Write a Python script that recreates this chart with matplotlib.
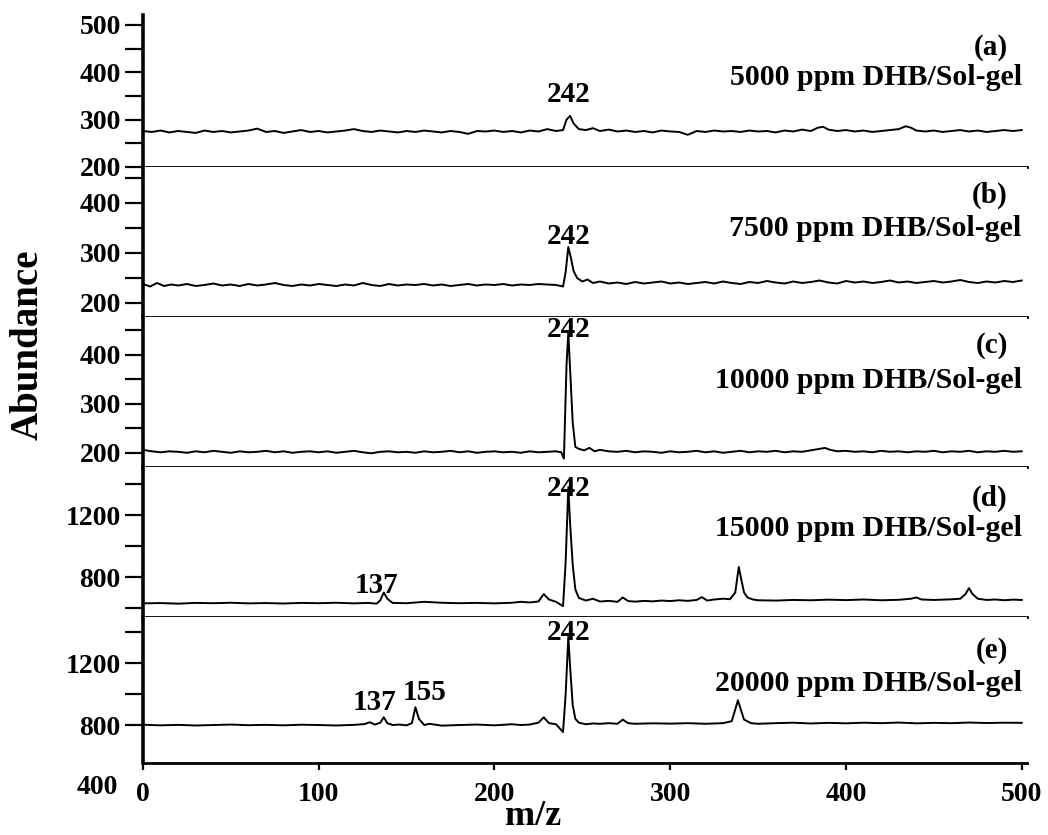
import matplotlib
matplotlib.use("Agg")
import matplotlib.pyplot as plt
from matplotlib.ticker import FixedLocator

plt.rcParams['font.family'] = ['Liberation Serif', 'DejaVu Serif']
plt.rcParams['font.weight'] = 'bold'

# ---------------- data ----------------
mz_a = [0, 5, 10, 15, 20, 25, 30, 35, 40, 45,
        50, 55, 60, 65, 70, 75, 80, 85, 90, 95,
        100, 105, 110, 115, 120, 125, 130, 135, 140, 145,
        150, 155, 160, 165, 170, 175, 180, 185, 190, 195,
        200, 205, 210, 215, 220, 225, 230, 235, 239, 241,
        243, 245, 248, 252, 256, 260, 265, 270, 275, 280,
        285, 290, 295, 300, 305, 310, 315, 320, 325, 330,
        335, 340, 345, 350, 355, 360, 365, 370, 375, 380,
        384, 387, 390, 395, 400, 405, 410, 415, 420, 425,
        430, 434, 437, 440, 445, 450, 455, 460, 465, 470,
        475, 480, 485, 490, 495, 500]
ab_a = [276, 274, 277, 273, 276, 274, 272, 277, 274, 276,
        273, 275, 277, 281, 274, 276, 272, 275, 278, 274,
        276, 273, 275, 277, 280, 276, 274, 277, 275, 273,
        276, 274, 277, 275, 273, 276, 274, 270, 276, 275,
        277, 274, 276, 273, 277, 275, 280, 276, 278, 300,
        308, 292, 280, 278, 282, 276, 279, 275, 277, 274,
        276, 273, 277, 275, 274, 268, 276, 274, 277, 275,
        276, 274, 277, 275, 276, 273, 277, 275, 279, 276,
        283, 285, 279, 276, 278, 275, 277, 274, 276, 278,
        280, 286, 283, 277, 275, 277, 274, 276, 278, 275,
        277, 274, 276, 278, 276, 278]

mz_b = [0, 4, 8, 12, 16, 20, 25, 30, 35, 40,
        45, 50, 55, 60, 65, 70, 75, 80, 85, 90,
        95, 100, 105, 110, 115, 120, 125, 130, 135, 140,
        145, 150, 155, 160, 165, 170, 175, 180, 185, 190,
        195, 200, 205, 210, 215, 220, 225, 230, 235, 239,
        240.5, 242, 243.5, 245, 247, 250, 253, 256, 260, 265,
        270, 275, 280, 285, 290, 295, 300, 305, 310, 315,
        320, 325, 330, 335, 340, 345, 350, 355, 360, 365,
        370, 375, 380, 385, 390, 395, 400, 405, 410, 415,
        420, 425, 430, 435, 440, 445, 450, 455, 460, 465,
        470, 475, 480, 485, 490, 495, 500]
ab_b = [238, 233, 240, 234, 237, 235, 238, 234, 236, 239,
        235, 237, 234, 238, 235, 237, 240, 236, 234, 237,
        235, 238, 236, 234, 237, 235, 240, 236, 234, 238,
        235, 237, 236, 238, 235, 237, 234, 236, 238, 235,
        237, 236, 238, 235, 237, 236, 238, 237, 236, 233,
        262, 312, 290, 264, 250, 243, 247, 240, 243, 239,
        241, 238, 242, 239, 241, 243, 239, 241, 238, 240,
        242, 239, 243, 240, 238, 242, 240, 244, 241, 239,
        243, 240, 242, 245, 241, 239, 244, 241, 243, 240,
        242, 245, 241, 243, 240, 242, 244, 241, 243, 246,
        242, 240, 243, 241, 244, 242, 245]

mz_c = [0, 5, 10, 15, 20, 25, 30, 35, 40, 45,
        50, 55, 60, 65, 70, 75, 80, 85, 90, 95,
        100, 105, 110, 115, 120, 125, 130, 135, 140, 145,
        150, 155, 160, 165, 170, 175, 180, 185, 190, 195,
        200, 205, 210, 215, 220, 225, 230, 235, 238, 239.5,
        241, 242, 243, 244.5, 246, 248, 251, 254, 257, 260,
        265, 270, 275, 280, 285, 290, 295, 300, 305, 310,
        315, 320, 325, 330, 335, 340, 345, 350, 355, 360,
        365, 370, 375, 380, 385, 388, 391, 395, 400, 405,
        410, 415, 420, 425, 430, 435, 440, 445, 450, 455,
        460, 465, 470, 475, 480, 485, 490, 495, 500]
ab_c = [206, 203, 201, 203, 202, 200, 203, 201, 204, 202,
        200, 203, 201, 202, 204, 201, 203, 200, 202, 203,
        201, 203, 200, 202, 204, 201, 199, 202, 203, 201,
        202, 200, 203, 201, 202, 204, 201, 203, 200, 202,
        203, 201, 202, 200, 203, 201, 202, 203, 201, 188,
        380, 445, 372, 262, 212, 208, 205, 210, 203, 206,
        203, 202, 204, 201, 203, 202, 200, 203, 201, 202,
        204, 201, 203, 200, 202, 204, 201, 203, 202, 204,
        201, 203, 202, 205, 208, 210, 206, 203, 204, 202,
        203, 201, 204, 202, 203, 201, 203, 202, 204, 201,
        203, 202, 204, 201, 203, 202, 204, 202, 203]

mz_d = [0, 10, 20, 30, 40, 50, 60, 70, 80, 90,
        100, 110, 120, 128, 133, 135, 137, 139, 142, 150,
        160, 170, 180, 190, 200, 210, 215, 220, 225, 228,
        231, 235, 239, 240.5, 242, 243, 244.5, 246, 248, 252,
        256, 260, 265, 270, 273, 276, 280, 285, 290, 295,
        300, 305, 310, 315, 318, 321, 325, 330, 334, 337,
        339, 340.5, 342, 344, 347, 350, 360, 370, 380, 390,
        400, 410, 420, 430, 437, 440, 443, 450, 460, 465,
        468, 470, 472, 475, 480, 485, 490, 495, 500]
ab_d = [630, 632, 628, 633, 631, 634, 630, 632, 629, 633,
        631, 634, 630, 633, 628, 650, 700, 660, 633, 631,
        640, 634, 631, 633, 630, 634, 640, 636, 642, 690,
        655, 640, 612, 900, 1380, 1150, 880, 720, 665, 648,
        660, 642, 646, 640, 668, 645, 641, 646, 643, 648,
        645, 650, 646, 652, 670, 648, 655, 660, 657, 700,
        865, 780, 700, 668, 655, 650, 648, 652, 650, 654,
        651, 655, 650, 653, 660, 668, 655, 652, 656, 660,
        690, 728, 690, 660, 652, 655, 650, 654, 652]

mz_e = [0, 10, 20, 30, 40, 50, 60, 70, 80, 90,
        100, 110, 120, 126, 129, 132, 135, 137, 139, 142,
        146, 150, 153, 155, 157, 160, 163, 170, 180, 190,
        200, 210, 215, 220, 225, 228, 231, 235, 239, 240.5,
        242, 243, 244.5, 246, 248, 252, 256, 260, 265, 270,
        273, 276, 280, 290, 300, 310, 320, 330, 335, 337,
        338.5, 340, 342, 346, 350, 360, 370, 380, 390, 400,
        410, 420, 430, 440, 450, 460, 470, 480, 490, 500]
ab_e = [802, 798, 801, 797, 800, 803, 799, 801, 798, 802,
        800, 797, 801, 806, 818, 803, 815, 850, 812, 800,
        803, 798, 812, 915, 840, 800, 808, 796, 800, 803,
        798, 805, 800, 803, 815, 850, 812, 805, 755, 1000,
        1370, 1180, 930, 840, 815, 805, 810, 808, 812, 808,
        835, 812, 808, 811, 809, 812, 808, 812, 825, 900,
        960, 905, 835, 812, 808, 812, 815, 810, 814, 811,
        815, 812, 816, 811, 814, 812, 816, 813, 815, 814]

panel_letters = ['(a)', '(b)', '(c)', '(d)', '(e)']
panel_titles = ['5000 ppm DHB/Sol-gel', '7500 ppm DHB/Sol-gel',
                '10000 ppm DHB/Sol-gel', '15000 ppm DHB/Sol-gel',
                '20000 ppm DHB/Sol-gel']
x_ticks = [0, 100, 200, 300, 400, 500]

# ---------------- layout ----------------
W, H = 1048, 835
fig = plt.figure(figsize=(W / 100, H / 100), dpi=100)

left_px, right_px = 143, 1027
rows_px = [(15, 167), (167, 317), (317, 467), (467, 617), (617, 763)]
ylims = [(200, 521), (172, 472), (171, 477), (542, 1510), (555, 1497)]
major = [[200, 300, 400, 500], [200, 300, 400], [200, 300, 400],
         [800, 1200], [800, 1200]]
minor = [[250, 350, 450], [250, 350, 450], [250, 350, 450],
         [600, 1000, 1400], [1000, 1400]]
letter_y = [452, 416, 418, 1310, 1278]
title_y = [389, 348, 347, 1112, 1067]
peak_lab_y = [354, 334, 451, 1374, 1400]

series = [(mz_a, ab_a), (mz_b, ab_b), (mz_c, ab_c), (mz_d, ab_d), (mz_e, ab_e)]

axes = []
for i, ((top, bot), (mz, ab)) in enumerate(zip(rows_px, series)):
    ax = fig.add_axes([left_px / W, 1 - bot / H, (right_px - left_px) / W,
                       (bot - top) / H])
    axes.append(ax)
    ax.plot(mz, ab, color='black', lw=1.4)
    ax.set_xlim(0, 503)
    ax.set_ylim(*ylims[i])
    for s in ('top', 'right'):
        ax.spines[s].set_visible(False)
    ax.spines['left'].set_linewidth(2.6)
    ax.spines['bottom'].set_linewidth(2.0)
    ax.set_yticks(major[i])
    ax.yaxis.set_minor_locator(FixedLocator(minor[i]))
    ax.tick_params(axis='y', which='both', direction='out', length=13,
                   width=1.6, labelsize=20, pad=3)
    if i < 4:
        ax.tick_params(axis='x', which='both', bottom=False, labelbottom=False)
    else:
        ax.set_xticks(x_ticks)
        ax.tick_params(axis='x', direction='out', length=5, width=1.6,
                       labelsize=20, pad=9)
    for lab in ax.get_yticklabels() + ax.get_xticklabels():
        lab.set_fontweight('bold')

    ax.text(492, letter_y[i], panel_letters[i], ha='right', va='center',
            fontsize=21, fontweight='bold')
    ax.text(500, title_y[i], panel_titles[i], ha='right', va='center',
            fontsize=21.5, fontweight='bold')
    ax.text(242, peak_lab_y[i], '242', ha='center', va='center',
            fontsize=21, fontweight='bold')

axes[3].text(133, 748, '137', ha='center', va='center', fontsize=21,
             fontweight='bold')
axes[4].text(132, 948, '137', ha='center', va='center', fontsize=21,
             fontweight='bold')
axes[4].text(160, 1013, '155', ha='center', va='center', fontsize=21,
             fontweight='bold')
# extra "400" label below the last panel
axes[4].text(-0.028, 400, '400', transform=axes[4].get_yaxis_transform(),
             ha='right', va='center', fontsize=20, fontweight='bold',
             clip_on=False)

fig.text(28 / W, 1 - 345 / H, 'Abundance', rotation=90, ha='center',
         va='center', fontsize=28, fontweight='bold')
fig.text(533 / W, 1 - 825 / H, 'm/z', ha='center', va='baseline',
         fontsize=26, fontweight='bold')

fig.savefig('out.png', dpi=100)
